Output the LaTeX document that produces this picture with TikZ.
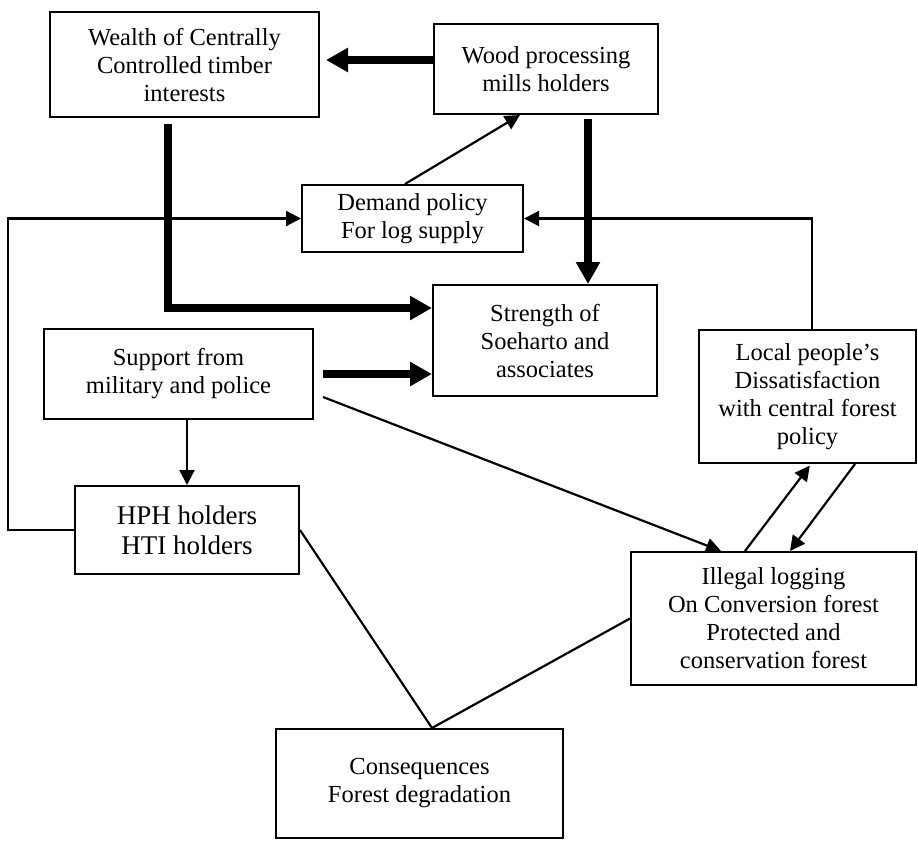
\documentclass[tikz,border=0pt]{standalone}
\usepackage{fontspec}
\setmainfont{Liberation Serif}
\usetikzlibrary{arrows.meta}
\begin{document}
\begin{tikzpicture}[x=1pt,y=-1pt,
  box/.style={draw, line width=2pt, align=center, inner sep=0pt,
    font=\fontsize{24.5}{28}\selectfont},
  thn/.style={line width=2.2pt, -{Triangle[length=15pt,width=15pt]}},
  thk/.style={line width=7.5pt, -{Triangle[length=22pt,width=23pt]}},
  ln/.style={line width=2.2pt}]
\fill[white] (0,0) rectangle (918,841);
\useasboundingbox (0,0) rectangle (918,841);

% boxes
\node[box, minimum width=269pt, minimum height=105pt] (wealth) at (184.5,64.5)
  {Wealth of Centrally\\Controlled timber\\interests};
\node[box, minimum width=224pt, minimum height=90pt] (wood) at (546,69)
  {Wood processing\\mills holders};
\node[box, minimum width=221pt, minimum height=67pt] (demand) at (412.5,218.5)
  {Demand policy\\For log supply};
\node[box, minimum width=224pt, minimum height=111pt] (strength) at (545,340.5)
  {Strength of\\Soeharto and\\associates};
\node[box, minimum width=269pt, minimum height=90pt] (support) at (178.5,374)
  {Support from\\military and police};
\node[box, minimum width=217pt, minimum height=133pt] (local) at (807.5,396.5)
  {Local people’s\\Dissatisfaction\\with central forest\\policy};
\node[box, minimum width=224pt, minimum height=88pt,
  font=\fontsize{27}{30}\selectfont] (hph) at (187,530)
  {HPH holders\\HTI holders};
\node[box, minimum width=285pt, minimum height=133pt] (illegal) at (773.5,618.5)
  {Illegal logging\\On Conversion forest\\Protected and\\conservation forest};
\node[box, minimum width=287pt, minimum height=109pt] (cons) at (419.5,783.5)
  {Consequences\\Forest degradation};

% helper coordinates
\coordinate (xL) at (8,0);
\coordinate (xR) at (812,0);
\coordinate (xW) at (588,0);
\coordinate (xC) at (168,0);
\coordinate (yA) at (0,308);
\coordinate (wl) at ([yshift=4.5pt]wealth.east);

% thick arrows
\draw[thk] (wl -| wood.west) -- ([xshift=6pt]wl);
\draw[thk, shorten <=6pt] (xC |- wealth.south) |- (strength.west |- yA);
\draw[thk, shorten <=4pt] (xW |- wood.south) -- (xW |- strength.north);
\draw[thk, shorten <=9pt] (support.east) -- (strength.west |- support.east);

% thin arrows
\draw[thn] (hph.west) -- (xL |- hph.west) -- (xL |- demand.west) -- (demand.west);
\draw[thn] (xR |- local.north) -- (xR |- demand.east) -- (demand.east);
\draw[thn] ([xshift=-7.5pt]demand.north) -- ([xshift=-26pt]wood.south);
\draw[thn] (hph.north |- support.south) -- (hph.north);
\draw[thn] ([xshift=9pt,yshift=-23pt]support.east) -- ([xshift=-52.5pt]illegal.north);
\draw[thn, shorten >=2pt] ([xshift=-28.5pt]illegal.north) -- ([xshift=3.5pt]local.south);
\draw[thn] ([xshift=47.5pt]local.south) -- ([xshift=16.5pt]illegal.north);

% plain lines
\draw[ln] (hph.east) -- ([xshift=12.5pt]cons.north);
\draw[ln] (illegal.west) -- ([xshift=12.5pt]cons.north);
\end{tikzpicture}
\end{document}
